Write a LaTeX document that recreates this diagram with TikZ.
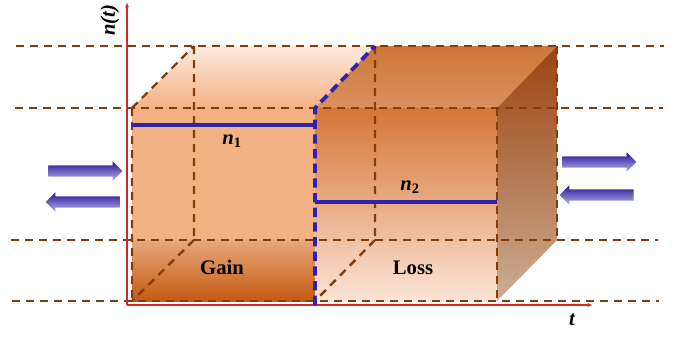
\documentclass[tikz,border=0pt]{standalone}
\usepackage{fontspec}
\setmainfont{Liberation Serif}
\usetikzlibrary{arrows.meta, shapes.arrows}
\definecolor{cguide}{HTML}{843C0C}
\definecolor{caxis}{HTML}{D02828}
\definecolor{cblue}{HTML}{3122AC}
\definecolor{carrdark}{HTML}{281490}
\definecolor{carrlight}{HTML}{B0B0F2}
\definecolor{cpale}{HTML}{FCEBDF}
\definecolor{cpeach}{HTML}{F4B183}
\definecolor{crust}{HTML}{C55A11}
\definecolor{ctopdark}{HTML}{CE7538}
\definecolor{ctoplight}{HTML}{DA9160}
\definecolor{cfront}{HTML}{D67536}
\definecolor{cfrontlow}{HTML}{FCE4D6}
\definecolor{csidetop}{HTML}{9B440F}
\definecolor{csidelow}{HTML}{CDAD94}
\tikzset{
  every picture/.style={x=0.75pt, y=-0.75pt},
  guide/.style={draw=cguide, line width=1.8pt, dash pattern=on 6pt off 4.5pt},
  bluedash/.style={draw=cblue, line width=2.8pt, dash pattern=on 7pt off 4pt},
  level/.style={draw=cblue, line width=2.6pt},
  axis/.style={draw=caxis, line width=0.9pt, -{Latex[length=4pt, width=3pt]}},
  lbl/.style={font=\fontsize{15.5}{18}\selectfont\bfseries, inner sep=0pt},
  flowarrow/.style={single arrow, draw=none, minimum height=55.5pt, inner xsep=0pt, inner ysep=4pt,
    single arrow head extend=3pt, single arrow tip angle=90,
    top color=carrdark, middle color=carrdark!92!white, bottom color=carrlight},
}
\begin{document}
\begin{tikzpicture}
  \useasboundingbox (0,0) rectangle (686,337);
  % corners of the box (front and back)
  \coordinate (fa) at (132,108); \coordinate (fb) at (315,108); \coordinate (fc) at (497,108);
  \coordinate (fd) at (132,301); \coordinate (fe) at (315,301); \coordinate (ff) at (497,301);
  \coordinate (ba) at (194,46);  \coordinate (bb) at (375,46);  \coordinate (bc) at (557,46);
  \coordinate (bd) at (194,240); \coordinate (be) at (375,240); \coordinate (bf) at (557,240);
  % faces
  \shade[top color=cpale, bottom color=cpeach] (fa) -- (ba) -- (bb) -- (fb) -- cycle;
  \fill[cpeach] (fa) rectangle (315,240);
  \shade[top color=cpeach!95!black, bottom color=crust] (132,240) rectangle (fe);
  \shade[top color=ctopdark, bottom color=ctoplight] (fb) -- (bb) -- (bc) -- (fc) -- cycle;
  \shade[top color=cfront, middle color=cpeach!95!orange, bottom color=cfrontlow] (fb) rectangle (ff);
  \shade[top color=csidetop, bottom color=csidelow] (fc) -- (bc) -- (bf) -- (ff) -- cycle;
  % guide lines
  \foreach \y/\a/\b in {46/16/664, 108/15/663, 240/11/658, 301/12/659}
    \draw[guide] (\a,\y) -- (\b,\y);
  % hidden and visible edges
  \draw[guide] (fa) -- (ba) (ba) -- (bd) (bd) -- (fd) (fa) -- (fd);
  \draw[guide] (bb) -- (be) (be) -- (fe);
  \draw[guide] (fc) -- (ff) (bc) -- (bf);
  % axes
  \coordinate (O) at (127,305);
  \coordinate (ytop) at (127,2);
  \coordinate (xend) at (593,305);
  \draw[axis] (O) -- (ytop);
  \draw[axis] (O) -- (xend);
  \node[lbl, rotate=90] (ny) at (110,20) {\itshape n(t)};
  \node[lbl] (nx) at (572,320) {\itshape t};
  % boundary between gain and loss
  \coordinate (fe2) at (315,305);
  \draw[bluedash] (fe2) -- (fb) -- (bb);
  % levels
  \draw[level] (132,125) -- (315,125);
  \draw[level] (315,202) -- (497,202);
  \node[lbl] (n1) at (232,141) {\itshape n\textsubscript{\upshape 1}};
  \node[lbl] (n2) at (410,187) {\itshape n\textsubscript{\upshape 2}};
  \node[lbl] (gain) at (222,267) {Gain};
  \node[lbl] (loss) at (413,268) {Loss};
  % flows in and out
  \node[flowarrow, anchor=tail] (inl) at (48,171) {};
  \node[flowarrow, anchor=tail, shape border rotate=180] (outl) at (120,202) {};
  \node[flowarrow, anchor=tail] (outr) at (562,162) {};
  \node[flowarrow, anchor=tail, shape border rotate=180] (inr) at (634,195) {};
\end{tikzpicture}
\end{document}
